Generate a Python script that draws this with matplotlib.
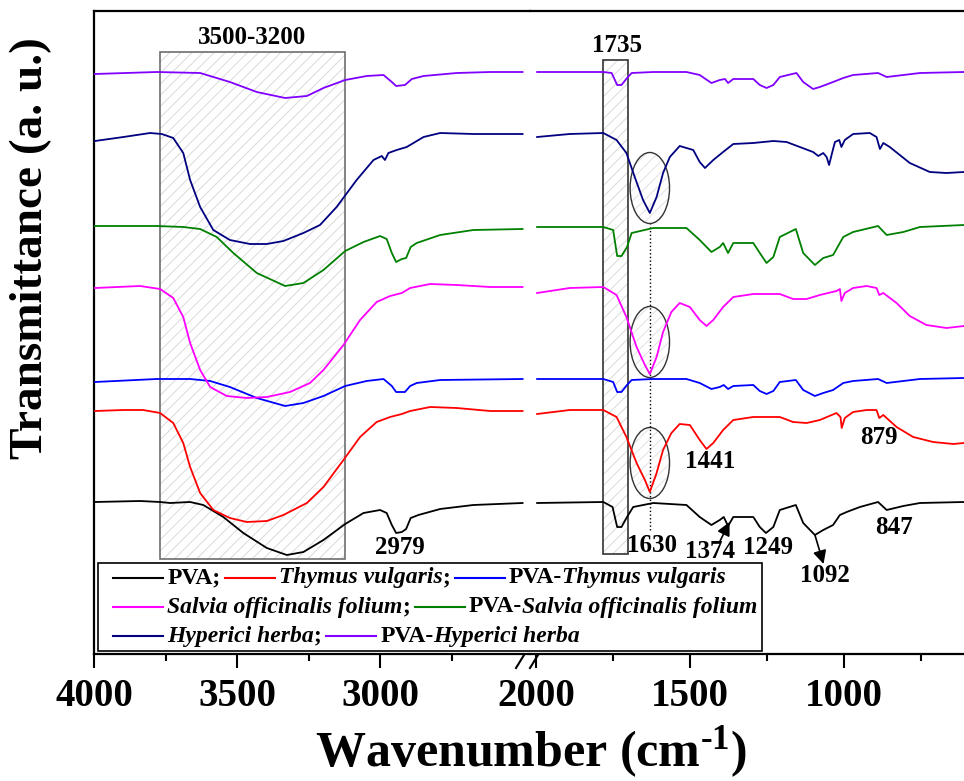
import matplotlib
matplotlib.use('Agg')
import matplotlib.pyplot as plt
from matplotlib.patches import Rectangle, Ellipse
from matplotlib.lines import Line2D
from matplotlib.offsetbox import AnchoredOffsetbox, HPacker, VPacker, TextArea, DrawingArea

plt.rcParams['font.family'] = ['Liberation Serif', 'DejaVu Serif']
plt.rcParams['font.weight'] = 'bold'
plt.rcParams['mathtext.fontset'] = 'custom'
plt.rcParams['mathtext.rm'] = 'Liberation Serif:bold'
plt.rcParams['mathtext.bf'] = 'Liberation Serif:bold'
plt.rcParams['mathtext.default'] = 'rm'
plt.rcParams['hatch.linewidth'] = 0.6

# spectra, offset-stacked transmittance (a.u.); hi = 4000-2500, lo = 2000-600 cm-1
pva_hi_wn = [3997, 3839, 3769, 3734, 3664, 3618, 3548, 3478, 3396, 3326, 3268, 3198, 3122, 3058, 3000, 2977, 2959, 2944, 2924, 2909, 2893, 2866, 2790, 2674, 2502]
pva_hi_t = [152, 153, 152, 151, 152, 149, 137, 121, 106, 99, 102, 114, 130, 141, 144, 141, 129, 121, 122, 125, 136, 139, 145, 149, 151]
pva_lo_wn = [1996, 1781, 1751, 1736, 1722, 1704, 1684, 1619, 1511, 1468, 1430, 1403, 1390, 1376, 1359, 1294, 1273, 1253, 1229, 1208, 1156, 1132, 1094, 1067, 1035, 1013, 991, 948, 889, 861, 807, 753, 610]
pva_lo_t = [151, 152, 147, 127, 127, 137, 147, 151, 149, 137, 129, 134, 137, 128, 137, 137, 127, 121, 127, 144, 149, 131, 119, 124, 129, 139, 142, 147, 152, 144, 148, 151, 152]

thy_hi_wn = [3997, 3897, 3828, 3769, 3723, 3688, 3664, 3629, 3583, 3525, 3466, 3396, 3338, 3256, 3198, 3128, 3070, 3012, 2965, 2924, 2895, 2825, 2732, 2615, 2502]
thy_hi_t = [243, 244, 244, 241, 231, 211, 187, 161, 144, 136, 132, 133, 139, 151, 167, 194, 217, 232, 237, 240, 243, 247, 246, 243, 243]
thy_lo_wn = [1996, 1890, 1781, 1738, 1706, 1673, 1646, 1630, 1608, 1587, 1560, 1533, 1500, 1468, 1446, 1424, 1392, 1359, 1294, 1208, 1165, 1121, 1078, 1024, 1011, 1007, 997, 970, 926, 894, 885, 872, 829, 775, 710, 645, 610]
thy_lo_t = [240, 244, 244, 237, 217, 191, 174, 162, 181, 204, 221, 230, 229, 214, 205, 211, 224, 234, 237, 237, 232, 231, 234, 241, 237, 226, 236, 242, 244, 244, 236, 239, 227, 217, 212, 210, 211]

pthy_hi_wn = [3997, 3781, 3664, 3594, 3525, 3431, 3332, 3268, 3198, 3122, 3047, 2988, 2959, 2944, 2913, 2895, 2872, 2790, 2502]
pthy_hi_t = [272, 275, 275, 273, 267, 256, 248, 251, 258, 268, 273, 275, 268, 262, 262, 268, 271, 274, 275]
pthy_lo_wn = [1996, 1781, 1749, 1736, 1722, 1704, 1689, 1619, 1511, 1468, 1430, 1403, 1390, 1376, 1359, 1294, 1273, 1251, 1229, 1208, 1156, 1132, 1094, 1067, 1035, 1002, 970, 889, 861, 807, 753, 610]
pthy_lo_t = [275, 275, 272, 262, 262, 269, 274, 275, 275, 271, 265, 267, 269, 265, 268, 269, 263, 260, 263, 272, 274, 264, 258, 261, 264, 271, 273, 275, 271, 273, 275, 276]

sal_hi_wn = [3997, 3839, 3769, 3723, 3688, 3664, 3629, 3594, 3536, 3466, 3396, 3315, 3245, 3198, 3128, 3070, 3012, 2965, 2924, 2895, 2825, 2732, 2615, 2502]
sal_hi_t = [366, 368, 365, 356, 337, 311, 284, 267, 258, 256, 257, 262, 271, 284, 309, 334, 352, 358, 361, 366, 370, 369, 367, 367]
sal_lo_wn = [1996, 1890, 1781, 1738, 1706, 1673, 1646, 1630, 1608, 1587, 1560, 1533, 1500, 1468, 1446, 1424, 1392, 1359, 1294, 1208, 1165, 1121, 1078, 1024, 1013, 1008, 997, 970, 926, 894, 885, 872, 829, 786, 732, 667, 610]
sal_lo_t = [361, 366, 367, 359, 337, 307, 289, 280, 297, 322, 342, 351, 347, 334, 328, 334, 347, 357, 360, 360, 355, 355, 359, 363, 365, 353, 361, 366, 368, 366, 359, 361, 351, 338, 329, 326, 328]

psal_hi_wn = [3997, 3781, 3688, 3629, 3571, 3513, 3431, 3332, 3268, 3198, 3122, 3058, 3000, 2977, 2959, 2944, 2924, 2909, 2893, 2872, 2790, 2674, 2502]
psal_hi_t = [428, 428, 427, 425, 417, 401, 381, 368, 371, 384, 403, 412, 418, 415, 401, 392, 395, 396, 407, 411, 419, 424, 425]
psal_lo_wn = [1996, 1781, 1749, 1736, 1722, 1704, 1689, 1619, 1511, 1468, 1430, 1403, 1392, 1376, 1359, 1294, 1273, 1251, 1229, 1208, 1156, 1132, 1094, 1067, 1035, 1002, 970, 889, 861, 807, 753, 610]
psal_lo_t = [427, 427, 424, 398, 398, 407, 421, 426, 426, 414, 402, 407, 411, 401, 411, 411, 401, 391, 397, 417, 425, 401, 389, 396, 399, 417, 422, 428, 419, 422, 427, 429]

hyp_hi_wn = [3997, 3897, 3804, 3763, 3723, 3688, 3664, 3629, 3583, 3525, 3455, 3396, 3338, 3268, 3210, 3152, 3082, 3023, 2994, 2983, 2971, 2942, 2907, 2848, 2790, 2674, 2502]
hyp_hi_t = [513, 517, 521, 520, 516, 501, 474, 447, 424, 414, 410, 410, 413, 421, 429, 447, 474, 494, 498, 494, 501, 504, 507, 517, 521, 520, 520]
hyp_lo_wn = [1996, 1890, 1781, 1738, 1706, 1679, 1652, 1630, 1608, 1587, 1565, 1533, 1489, 1468, 1451, 1424, 1392, 1359, 1294, 1229, 1186, 1143, 1100, 1083, 1067, 1056, 1048, 1040, 1029, 1015, 1008, 997, 970, 916, 894, 883, 872, 851, 786, 721, 667, 610]
hyp_lo_t = [517, 520, 521, 514, 501, 477, 454, 441, 457, 481, 497, 508, 504, 492, 486, 494, 502, 510, 511, 513, 512, 507, 502, 498, 501, 497, 489, 499, 512, 514, 507, 514, 520, 521, 517, 505, 511, 507, 491, 482, 481, 482]

phyp_hi_wn = [3997, 3781, 3629, 3525, 3431, 3332, 3256, 3198, 3122, 3047, 2988, 2959, 2944, 2913, 2889, 2848, 2732, 2615, 2502]
phyp_hi_t = [580, 582, 581, 572, 562, 556, 558, 566, 574, 578, 579, 572, 568, 569, 575, 578, 581, 582, 582]
phyp_lo_wn = [1996, 1781, 1754, 1736, 1722, 1704, 1689, 1619, 1511, 1468, 1430, 1403, 1386, 1376, 1359, 1294, 1273, 1251, 1229, 1208, 1154, 1132, 1100, 1078, 1035, 1002, 970, 889, 861, 807, 753, 610]
phyp_lo_t = [582, 582, 581, 569, 569, 576, 581, 582, 582, 579, 571, 574, 575, 571, 575, 575, 569, 566, 569, 577, 581, 572, 565, 567, 572, 576, 579, 581, 577, 579, 581, 582]

series = [
    (pva_hi_wn, pva_hi_t, pva_lo_wn, pva_lo_t, 'black'),
    (thy_hi_wn, thy_hi_t, thy_lo_wn, thy_lo_t, '#ff0000'),
    (pthy_hi_wn, pthy_hi_t, pthy_lo_wn, pthy_lo_t, '#0000ff'),
    (sal_hi_wn, sal_hi_t, sal_lo_wn, sal_lo_t, '#ff00ff'),
    (psal_hi_wn, psal_hi_t, psal_lo_wn, psal_lo_t, '#008000'),
    (hyp_hi_wn, hyp_hi_t, hyp_lo_wn, hyp_lo_t, '#000080'),
    (phyp_hi_wn, phyp_hi_t, phyp_lo_wn, phyp_lo_t, '#8000ff'),
]

# peak labels (wavenumber, height) for the right panel
peak_labels = ['1735', '1630', '1441', '879', '847', '1374', '1249', '1092']
peak_x = [1738, 1622, 1435, 885, 838, 1435, 1246, 1062]
peak_y = [609, 109, 193, 217, 127, 102, 106, 79]
amide_wn = 1630
ellipse_y = [466, 312, 191]

fig = plt.figure(figsize=(9.64, 7.81), dpi=100)
H = 781.0
W = 964.0
bot = 1 - 654 / H
hgt = (654 - 11) / H
ax1 = fig.add_axes([94 / W, bot, (530 - 94) / W, hgt])
ax2 = fig.add_axes([530 / W, bot, (964 - 530) / W, hgt])

for hw, ht, lw_, lt, c in series:
    ax1.plot(hw, ht, color=c, lw=1.3, zorder=3)
    ax2.plot(lw_, lt, color=c, lw=1.3, zorder=3)

ax1.set_xlim(4000, 2476)
ax2.set_xlim(2019, 610)
for ax in (ax1, ax2):
    ax.set_ylim(0, 643)
    ax.set_yticks([])
    for s in ax.spines.values():
        s.set_linewidth(1.6)
    ax.tick_params(axis='x', which='major', direction='out', length=10, width=1.5,
                   labelsize=28, pad=7)
    ax.tick_params(axis='x', which='minor', direction='out', length=5, width=1.5)
ax1.spines['right'].set_visible(False)
ax2.spines['left'].set_visible(False)
ax2.spines['right'].set_visible(False)
ax1.set_xticks([4000, 3500, 3000])
ax1.set_xticks([3750, 3250, 2750], minor=True)
ax2.set_xticks([2000, 1500, 1000])
ax2.set_xticks([1750, 1250, 750], minor=True)
for ax in (ax1, ax2):
    for t in ax.get_xticklabels():
        t.set_fontweight('bold')

# shaded regions
ax1.add_patch(Rectangle((3769, 95), 3122 - 3769, 602 - 95, facecolor='none', edgecolor='#d4d4d4',
                        hatch='///', lw=0, zorder=1))
ax1.add_patch(Rectangle((3769, 95), 3122 - 3769, 602 - 95, facecolor='none', edgecolor='#6e6e6e',
                        lw=1.2, zorder=2))
ax2.add_patch(Rectangle((1781, 100), 1702 - 1781, 594 - 100, facecolor='none', edgecolor='#d4d4d4',
                        hatch='///', lw=0, zorder=1))
ax2.add_patch(Rectangle((1781, 100), 1702 - 1781, 594 - 100, facecolor='none', edgecolor='#333333',
                        lw=1.2, zorder=2))
ax1.text(3449, 616, '3500-3200', ha='center', va='center', fontsize=18, fontweight='bold')

for ey in ellipse_y:
    ax2.add_patch(Ellipse((amide_wn, ey), 128, 71, facecolor='none', edgecolor='#dddddd',
                          hatch='///', lw=0, zorder=1))
    ax2.add_patch(Ellipse((amide_wn, ey), 128, 71, facecolor='none', edgecolor='#333333',
                          lw=1.0, zorder=2))
ax2.vlines(amide_wn, 124, 430, colors='k', linestyles=':', lw=1.0, zorder=2)

ax1.text(2930, 106, '2979', ha='center', va='center', fontsize=18, fontweight='bold')
for lab, px, py in zip(peak_labels, peak_x, peak_y):
    ax2.text(px, py, lab, ha='center', va='center', fontsize=18, fontweight='bold')
ax2.annotate('', xy=(1371, 132), xytext=(1402, 113),
             arrowprops=dict(arrowstyle='-|>', color='k', lw=1.2, mutation_scale=20,
                             shrinkA=0, shrinkB=0))
ax2.annotate('', xy=(1066, 90), xytext=(1094, 119),
             arrowprops=dict(arrowstyle='-|>', color='k', lw=1.2, mutation_scale=20,
                             shrinkA=0, shrinkB=0))

# axis break marks
for x0 in (516, 530):
    fig.add_artist(Line2D([x0 / W, (x0 + 8) / W], [1 - 668 / H, 1 - 655 / H], color='k', lw=1.5,
                          transform=fig.transFigure))

fig.text(531 / W, 1 - 752 / H, r'Wavenumber (cm$^{\text{-1}}$)', ha='center', va='center',
         fontsize=36, fontweight='bold')
fig.text(31 / W, 1 - 248 / H, 'Transmittance (a. u.)', ha='center', va='center',
         fontsize=34, fontweight='bold', rotation=90)

# legend laid out like the original: mixed upright / italic names
fs = 17


def handle(color):
    da = DrawingArea(36, 10, 0, 0)
    da.add_artist(Line2D([0, 36], [5, 5], color=color, lw=1.5))
    return da


def txt(s, italic=False):
    return TextArea(s, textprops=dict(fontsize=fs, fontweight='bold',
                                      fontstyle='italic' if italic else 'normal'))


def entry(color, parts):
    words = HPacker(children=[txt(s, it) for s, it in parts], sep=0, pad=0, align='baseline')
    return HPacker(children=[handle(color), words], sep=3, pad=0, align='center')


row1 = HPacker(children=[
    entry('black', [('PVA;', False)]),
    entry('#ff0000', [('Thymus vulgaris', True), (';', False)]),
    entry('#0000ff', [('PVA-', False), ('Thymus vulgaris', True)]),
], sep=3, pad=0, align='center')
row2 = HPacker(children=[
    entry('#ff00ff', [('Salvia officinalis folium', True), (';', False)]),
    entry('#008000', [('PVA-', False), ('Salvia officinalis folium', True)]),
], sep=3, pad=0, align='center')
row3 = HPacker(children=[
    entry('#000080', [('Hyperici herba', True), (';', False)]),
    entry('#8000ff', [('PVA-', False), ('Hyperici herba', True)]),
], sep=3, pad=0, align='center')
rows = VPacker(children=[row1, row2, row3], sep=6, pad=0, align='left')
inner = HPacker(children=[DrawingArea(8, 1, 0, 0), rows], sep=0, pad=0, align='center')
leg = AnchoredOffsetbox(loc='upper left', child=inner, pad=0.3, borderpad=0, frameon=True,
                        bbox_to_anchor=(98 / W, 1 - 563 / H), bbox_transform=fig.transFigure)
leg.patch.set_edgecolor('black')
leg.patch.set_linewidth(1.2)
leg.patch.set_boxstyle('square', pad=0)
fig.add_artist(leg)

fig.savefig('out.png', dpi=100)
